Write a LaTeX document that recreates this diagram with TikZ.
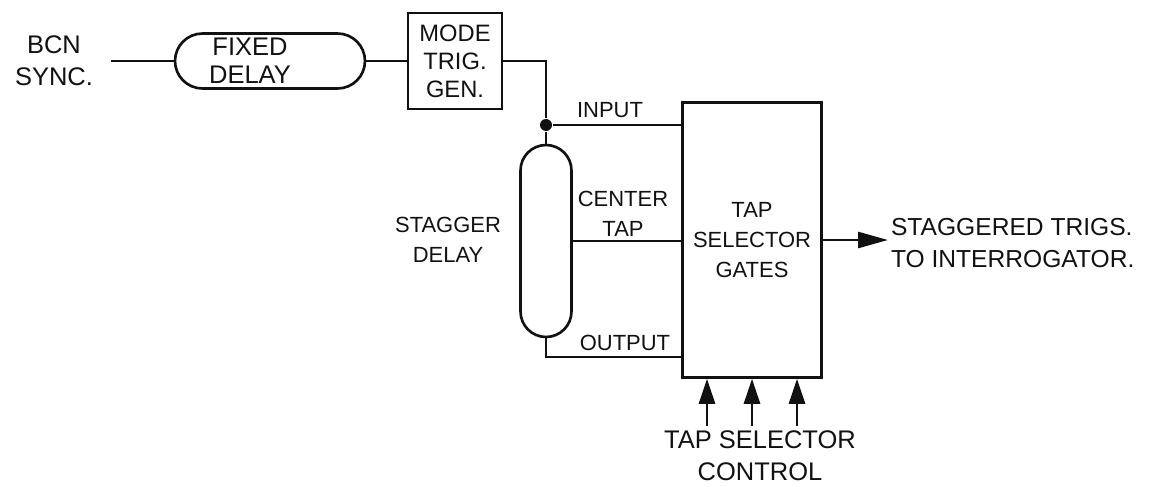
\documentclass[tikz,border=0pt]{standalone}
\usepackage{fontspec}
\setmainfont{Liberation Sans}
\usetikzlibrary{arrows.meta,positioning,calc}
\definecolor{ink}{HTML}{111111}

\begin{document}
\begin{tikzpicture}[x=0.02cm,y=-0.02cm,line width=1.5pt,ink,
  lbl/.style={font=\fontsize{12.5}{17}\selectfont,align=center,inner sep=1pt},
  biglbl/.style={lbl,font=\fontsize{14.5}{18}\selectfont},
  block/.style={draw,line width=1.5pt,lbl},
  capsule/.style={block,rounded corners=#1},
  trigarrow/.style={-{Triangle[length=0.6cm,width=0.32cm]}},
  ctlarrow/.style={-{Triangle[length=0.5cm,width=0.32cm]}}]
  \useasboundingbox (0,0) rectangle (1150,487);
  \node[biglbl] (sync) at (54,61) {BCN\\SYNC.};
  \node[capsule=0.55cm,minimum width=3.8cm,minimum height=1.1cm] (fixed) at (270,61) {};
  \node[lbl,font=\fontsize{14.5}{16}\selectfont] at (250,61) {FIXED\\DELAY};
  \node[block,font=\fontsize{13.5}{16}\selectfont,minimum width=1.88cm,minimum height=1.92cm] (mode) at (455,61) {MODE\\TRIG.\\GEN.};
  \node[circle,fill,inner sep=0pt,minimum size=0.24cm] (jn) at (546,125) {};
  \node[capsule=0.51cm,minimum width=1.02cm,minimum height=3.84cm] (stagger) at (546,241) {};
  \node[block,minimum width=2.78cm,minimum height=5.5cm] (gates) at (752,240) {TAP\\SELECTOR\\GATES};
  \coordinate (outc) at (546,357);
  \node[biglbl,font=\fontsize{14}{18}\selectfont,anchor=west,align=left] (trigs) at (888,243) {STAGGERED TRIGS.\\TO INTERROGATOR.};
  \node[biglbl] (ctl) at (760,456) {TAP SELECTOR\\CONTROL};
  \node[lbl] at (448,240) {STAGGER\\DELAY};
  \node[lbl] at (610,110) {INPUT};
  \node[lbl] at (623,214) {CENTER\\TAP};
  \node[lbl] at (625,343) {OUTPUT};
  \draw ([xshift=0.3cm]sync.east) -- (fixed.west);
  \draw (fixed.east) -- (mode.west);
  \draw (mode.east) -| (jn);
  \draw (jn) -- (stagger.north);
  \draw (jn) -- (jn -| gates.west);
  \draw (stagger.east) -- (stagger.east -| gates.west);
  \draw (stagger.south) -- (outc) -- (outc -| gates.west);
  \draw[trigarrow] (gates.east) -- (gates.east -| trigs.west);
  \foreach \dx in {-45,0,45} {
    \draw[ctlarrow] ($(gates.south)+(\dx,47)$) -- ($(gates.south)+(\dx,0)$);
  }
\end{tikzpicture}
\end{document}
